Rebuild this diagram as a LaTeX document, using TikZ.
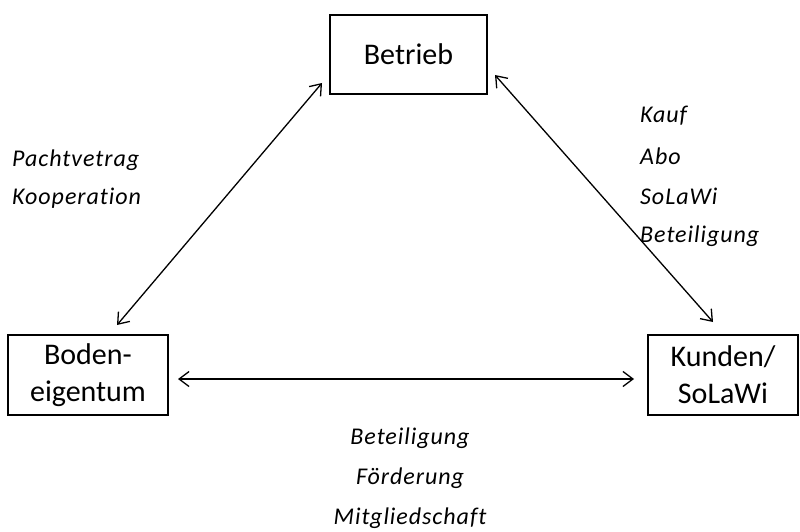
\documentclass[tikz,border=0pt]{standalone}
\usepackage{fontspec}
\setmainfont{Carlito}[Ligatures=NoCommon]
\usetikzlibrary{arrows.meta}
\begin{document}
\begin{tikzpicture}[x=1pt,y=-1pt,
  box/.style={draw,line width=2pt,minimum width=#1,minimum height=80pt,inner sep=0pt,align=center,font=\fontsize{30}{37}\selectfont},
  conn/.style={line width=1.3pt,{Straight Barb[length=10pt,width=15pt,line width=1.3pt]}-{Straight Barb[length=10pt,width=15pt,line width=1.3pt]}},
  lab/.style={font=\fontsize{24}{40}\selectfont\itshape\addfontfeature{LetterSpace=4,Ligatures=NoCommon},inner sep=0pt}]
\useasboundingbox (0,0) rectangle (800,532);
\node[box=157pt,minimum height=79pt] (betrieb) at (408.5,54.5) {Betrieb};
\node[box=160pt] (boden) at (88,375) {Boden-\\eigentum};
\node[box=150pt] (kunden) at (723,375) {Kunden/\\SoLaWi};
\coordinate (a1) at (322,83);
\coordinate (a2) at (117,325);
\coordinate (b1) at (495,75);
\coordinate (b2) at (713,322);
\coordinate (c1) at (178,379);
\coordinate (c2) at (634,379);
\draw[conn] (a1) -- (a2);
\draw[conn] (b1) -- (b2);
\draw[conn] (c1) -- (c2);
\node[lab,anchor=west] (l1) at (12,160) {Pachtvetrag};
\node[lab,anchor=west] (l2) at (12,198) {Kooperation};
\node[lab,anchor=west] (r1) at (640,116) {Kauf};
\node[lab,anchor=west] (r2) at (640,156) {Abo};
\node[lab,anchor=west] (r3) at (640,196) {SoLaWi};
\node[lab,anchor=west] (r4) at (640,236) {Beteiligung};
\node[lab] (m1) at (410,438) {Beteiligung};
\node[lab] (m2) at (410,478) {Förderung};
\node[lab] (m3) at (410,518) {Mitgliedschaft};
\end{tikzpicture}
\end{document}
